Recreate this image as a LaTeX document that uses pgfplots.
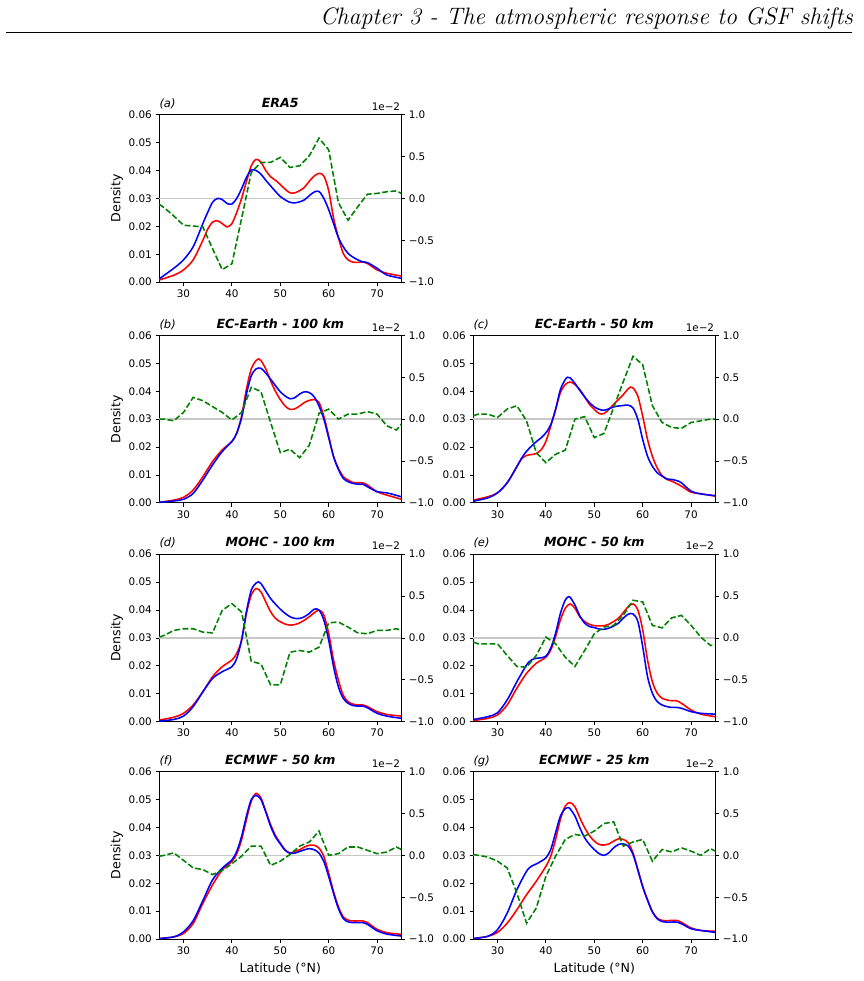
\documentclass[border=0pt]{standalone}
\usepackage{fontspec}
\newfontfamily\dejavu{DejaVu Sans}
\usepackage{pgfplots}
\pgfplotsset{compat=1.18}

\newcommand\tickfont{\dejavu\fontsize{10.4}{12}\selectfont}
\newcommand\labfont{\dejavu\fontsize{12.6}{15}\selectfont}

\definecolor{mplred}{rgb}{1,0,0}
\definecolor{mplblue}{rgb}{0,0,1}
\definecolor{mplgreen}{rgb}{0,0.5,0}
\definecolor{zeroline}{rgb}{0.78,0.78,0.78}

\pgfplotsset{
  panelbase/.style={
    scale only axis, width=242pt, height=167.5pt, anchor=south west,
    xmin=25, xmax=75, clip=false, scaled ticks=false,
    tick align=outside, major tick length=3.64pt,
    every tick/.style={black, line width=0.83pt},
    axis line style={line width=0.83pt},
    tick label style={font=\tickfont, inner sep=0pt},
  },
  densityaxis/.style={panelbase,
    ymin=0, ymax=0.06,
    xtick={30,40,50,60,70}, xticklabels={30,40,50,60,70},
    ytick={0,0.01,0.02,0.03,0.04,0.05,0.06},
    yticklabels={0.00,0.01,0.02,0.03,0.04,0.05,0.06},
    tick pos=left, xticklabel shift=3.66pt, yticklabel shift=3.66pt,
  },
  shiftaxis/.style={panelbase,
    ymin=-1, ymax=1, hide x axis,
    ytick={-1,-0.5,0,0.5,1}, yticklabels={−1.0,−0.5,0.0,0.5,1.0},
    ytick pos=right, yticklabel pos=right, yticklabel shift=3.66pt,
    axis line style={draw=none},
  },
}

% one panel: density curves on the left axis, shift on the right axis
% #1,#2 lower-left corner, #3 tag, #4 title, #5 red, #6 blue, #7 green, #8 extra labels
\newcommand\panel[8]{%
  \begin{axis}[densityaxis, at={(#1pt,#2pt)}]
    \addplot[zeroline, line width=1.56pt] coordinates {(25,0.03) (75,0.03)};
    \addplot[mplred, line width=1.56pt, smooth] coordinates {#5};
    \addplot[mplblue, line width=1.56pt, smooth] coordinates {#6};
    #8
  \end{axis}
  \begin{axis}[shiftaxis, at={(#1pt,#2pt)}]
    \addplot[mplgreen, line width=1.56pt, dash pattern=on 5.8pt off 2.5pt] coordinates {#7};
    \node[anchor=south east, inner sep=0pt, font=\tickfont] at ([xshift=-1pt,yshift=4pt]rel axis cs:1,1) {1e−2};
    \node[anchor=base, inner sep=0pt, font=\labfont\bfseries\itshape] at ([yshift=7.3pt]rel axis cs:0.5,1) {#4};
    \node[anchor=base west, inner sep=0pt, font=\dejavu\fontsize{11.5}{14}\selectfont\itshape] at ([yshift=7.3pt]rel axis cs:0,1) {(#3)};
  \end{axis}
}
\newcommand\ylab{\node[rotate=90, anchor=south, inner sep=0pt, font=\labfont] at ([xshift=-36pt]rel axis cs:0,0.5) {Density};}
\newcommand\xlab{\node[anchor=north, inner sep=0pt, font=\labfont] at ([yshift=-23.4pt]rel axis cs:0.5,0) {Latitude (°N)};}

\begin{document}
\begin{tikzpicture}
\path[use as bounding box] (0pt,0pt) rectangle (863pt,981pt);

% running head
\node[anchor=base east, inner sep=0pt, font=\fontsize{23.8}{28}\selectfont\itshape] at (853pt,956.5pt) {Chapter 3 - The atmospheric response to GSF shifts};
\draw[line width=1pt] (6pt,948.5pt) -- (852pt,948.5pt);

% (a) ERA5
\panel{159.3}{698.8}{a}{ERA5}
{(25,0.0008) (28,0.0025) (30,0.0044) (32,0.008) (34,0.015) (35,0.019) (36,0.0215) (37,0.022) (38,0.021) (39,0.0198) (40,0.021) (41,0.025) (42,0.030) (43,0.036) (44,0.0417) (45,0.044) (46,0.043) (47,0.040) (48,0.0378) (49,0.0365) (50,0.035) (51,0.0333) (52,0.032) (53,0.032) (54,0.0328) (55,0.034) (56,0.0362) (57,0.038) (58,0.039) (59,0.038) (60,0.0328) (61,0.023) (62,0.016) (63,0.0103) (64,0.008) (65,0.0072) (66,0.0071) (67,0.0072) (68,0.0067) (70,0.0044) (72,0.0032) (75,0.0022)}
{(25,0.0012) (28,0.005) (30,0.008) (32,0.0127) (34,0.021) (35,0.025) (36,0.0286) (37,0.030) (38,0.0296) (39,0.0282) (40,0.028) (41,0.030) (42,0.0335) (43,0.0375) (44,0.0402) (45,0.040) (46,0.0387) (47,0.0365) (48,0.0345) (49,0.0325) (50,0.0307) (51,0.0295) (52,0.0286) (53,0.0284) (54,0.0288) (55,0.0295) (56,0.031) (57,0.0323) (58,0.0325) (59,0.030) (60,0.026) (61,0.021) (62,0.016) (63,0.0127) (64,0.0103) (65,0.009) (66,0.008) (67,0.0073) (68,0.007) (70,0.005) (72,0.0026) (75,0.0014)}
{(25,-0.07) (26,-0.11) (28,-0.21) (30,-0.32) (32,-0.33) (34,-0.34) (36,-0.60) (38,-0.85) (40,-0.78) (42,-0.24) (44,0.31) (46,0.43) (48,0.43) (50,0.49) (52,0.37) (54,0.39) (56,0.51) (58,0.72) (60,0.58) (62,-0.05) (64,-0.26) (66,-0.10) (68,0.05) (70,0.06) (72,0.08) (74,0.09) (75,0.06)}
{\ylab}

% (b) EC-Earth 100 km
\panel{159.3}{478.1}{b}{EC-Earth - 100 km}
{(25,0.0002) (28,0.001) (30,0.002) (32,0.0046) (34,0.0094) (36,0.0148) (38,0.019) (40,0.022) (41,0.025) (42,0.031) (43,0.0407) (44,0.048) (45,0.051) (45.5,0.0516) (46,0.051) (47,0.048) (48,0.0437) (49,0.040) (50,0.037) (51,0.0347) (52,0.0335) (53,0.0337) (54,0.0347) (55,0.036) (56,0.0367) (57,0.037) (58,0.036) (59,0.031) (60,0.0239) (61,0.0166) (62,0.0124) (63,0.0094) (64,0.0082) (65,0.0073) (66,0.0072) (67,0.0072) (68,0.0064) (70,0.004) (72,0.0028) (75,0.0013)}
{(25,0.0002) (28,0.0007) (30,0.0013) (32,0.0034) (34,0.0082) (36,0.0136) (38,0.0184) (40,0.022) (41,0.025) (42,0.0305) (43,0.039) (44,0.0455) (45,0.048) (46,0.0482) (47,0.0465) (48,0.0443) (49,0.042) (50,0.0398) (51,0.0383) (52,0.0373) (53,0.0377) (54,0.039) (55,0.0398) (56,0.0395) (57,0.038) (58,0.0347) (59,0.030) (60,0.0233) (61,0.0166) (62,0.012) (63,0.0088) (64,0.0076) (65,0.007) (66,0.0067) (67,0.0067) (68,0.0058) (70,0.004) (72,0.0036) (75,0.0022)}
{(25,0) (26,0) (28,-0.02) (30,0.08) (32,0.26) (34,0.22) (36,0.15) (38,0.08) (40,-0.01) (42,0.08) (44,0.38) (46,0.33) (48,-0.04) (50,-0.40) (52,-0.36) (54,-0.46) (56,-0.31) (58,0.07) (60,0.12) (62,0.0) (64,0.06) (66,0.06) (68,0.09) (70,0.06) (72,-0.08) (74,-0.13) (75,-0.06)}
{\ylab}

% (c) EC-Earth 50 km
\panel{473.3}{478.1}{c}{EC-Earth - 50 km}
{(25,0.001) (28,0.0022) (30,0.0036) (32,0.0072) (34,0.013) (35,0.0158) (36,0.017) (37,0.0173) (38,0.0177) (39,0.019) (40,0.022) (41,0.0275) (42,0.0335) (43,0.0395) (44,0.0424) (45,0.0433) (46,0.0424) (47,0.0406) (48,0.038) (49,0.0353) (50,0.0335) (51,0.032) (52,0.032) (53,0.0335) (54,0.0353) (55,0.037) (56,0.0388) (57,0.0409) (57.5,0.0415) (58,0.0412) (59,0.0382) (60,0.031) (61,0.0227) (62,0.0167) (63,0.0125) (64,0.0098) (65,0.0084) (66,0.0078) (67,0.0069) (68,0.006) (70,0.0038) (72,0.0033) (75,0.0024)}
{(25,0.0006) (28,0.0018) (30,0.0036) (32,0.0072) (34,0.013) (35,0.0161) (36,0.0185) (37,0.0203) (38,0.0219) (39,0.0233) (40,0.0251) (41,0.028) (42,0.0335) (43,0.0406) (44,0.0442) (44.5,0.045) (45,0.0448) (46,0.0428) (47,0.0403) (48,0.038) (49,0.0359) (50,0.0344) (51,0.0335) (52,0.0332) (53,0.0337) (54,0.0344) (55,0.0347) (56,0.0349) (57,0.035) (58,0.034) (59,0.0299) (60,0.0227) (61,0.0167) (62,0.0131) (63,0.0108) (64,0.0096) (65,0.0086) (66,0.0084) (67,0.008) (68,0.0072) (70,0.0042) (72,0.0032) (75,0.0026)}
{(25,0.04) (26,0.06) (28,0.06) (30,0.02) (32,0.12) (34,0.16) (36,-0.02) (38,-0.40) (40,-0.52) (42,-0.42) (44,-0.37) (46,0.0) (48,0.03) (50,-0.22) (52,-0.17) (54,0.14) (56,0.45) (58,0.75) (60,0.65) (62,0.16) (64,-0.04) (66,-0.10) (68,-0.11) (70,-0.04) (72,-0.02) (74,0.0) (75,0.0)}
{}

% (d) MOHC 100 km
\panel{159.3}{259.3}{d}{MOHC - 100 km}
{(25,0.0006) (28,0.0016) (30,0.003) (32,0.006) (34,0.0107) (36,0.0161) (38,0.0197) (40,0.0221) (41,0.0245) (42,0.0292) (43,0.0388) (44,0.0453) (45,0.0477) (46,0.0465) (47,0.0429) (48,0.0394) (49,0.037) (50,0.0358) (51,0.035) (52,0.0346) (53,0.0348) (54,0.0354) (55,0.0364) (56,0.0376) (57,0.039) (58,0.040) (59,0.0382) (60,0.0316) (61,0.0221) (62,0.0149) (63,0.0095) (64,0.0072) (65,0.0063) (66,0.006) (67,0.006) (68,0.0054) (70,0.0036) (72,0.0026) (75,0.002)}
{(25,0.0002) (28,0.0008) (30,0.002) (32,0.0054) (34,0.0107) (36,0.0155) (38,0.0179) (40,0.0197) (41,0.0227) (42,0.0292) (43,0.0394) (44,0.0471) (45,0.0497) (45.5,0.0501) (46,0.0495) (47,0.0468) (48,0.0441) (49,0.0421) (50,0.0403) (51,0.0388) (52,0.0376) (53,0.037) (54,0.037) (55,0.0376) (56,0.0388) (57,0.0403) (58,0.040) (59,0.0364) (60,0.0292) (61,0.0197) (62,0.0125) (63,0.0084) (64,0.0066) (65,0.0058) (66,0.0056) (67,0.0056) (68,0.005) (70,0.003) (72,0.002) (75,0.0012)}
{(25,0.01) (26,0.03) (28,0.09) (30,0.11) (32,0.11) (34,0.07) (36,0.06) (38,0.33) (40,0.41) (42,0.31) (44,-0.28) (46,-0.31) (48,-0.56) (50,-0.56) (52,-0.17) (54,-0.15) (56,-0.17) (58,-0.11) (60,0.18) (62,0.19) (64,0.13) (66,0.06) (68,0.05) (70,0.09) (72,0.09) (74,0.11) (75,0.09)}
{\ylab}

% (e) MOHC 50 km
\panel{473.3}{259.3}{e}{MOHC - 50 km}
{(25,0.0004) (28,0.0012) (30,0.0024) (32,0.006) (34,0.012) (36,0.0173) (38,0.0209) (40,0.0231) (41,0.0257) (42,0.0305) (43,0.0365) (44,0.0406) (45,0.0422) (46,0.0406) (47,0.0376) (48,0.0359) (49,0.0349) (50,0.0344) (51,0.0343) (52,0.0344) (53,0.0349) (54,0.0359) (55,0.0371) (56,0.0391) (57,0.0412) (58,0.0422) (59,0.040) (60,0.0329) (61,0.0221) (62,0.0143) (63,0.0102) (64,0.0084) (65,0.0078) (66,0.0075) (67,0.0075) (68,0.0066) (70,0.0042) (72,0.0027) (75,0.0018)}
{(25,0.0008) (28,0.0018) (30,0.0032) (32,0.0078) (34,0.0143) (36,0.0203) (37,0.0221) (38,0.0227) (39,0.0229) (40,0.0235) (41,0.0263) (42,0.0317) (43,0.0388) (44,0.0436) (44.7,0.0448) (45,0.0446) (46,0.0418) (47,0.0379) (48,0.0353) (49,0.0341) (50,0.0337) (51,0.0332) (52,0.0331) (53,0.0335) (54,0.0343) (55,0.0353) (56,0.0371) (57,0.0385) (58,0.0386) (59,0.0359) (60,0.0269) (61,0.0161) (62,0.0102) (63,0.0072) (64,0.006) (65,0.0054) (66,0.0051) (67,0.0051) (68,0.0048) (70,0.0036) (72,0.003) (75,0.0027)}
{(25,-0.05) (26,-0.07) (28,-0.07) (30,-0.07) (32,-0.21) (34,-0.34) (36,-0.35) (38,-0.21) (40,0.01) (42,-0.07) (44,-0.23) (46,-0.34) (48,-0.15) (50,0.05) (52,0.13) (54,0.15) (56,0.27) (58,0.45) (60,0.43) (62,0.15) (64,0.12) (66,0.24) (68,0.27) (70,0.15) (72,0.01) (74,-0.09) (75,-0.08)}
{}

% (f) ECMWF 50 km
\panel{159.3}{41.9}{f}{ECMWF - 50 km}
{(25,0.0002) (28,0.0008) (30,0.002) (32,0.0056) (34,0.0128) (36,0.0194) (38,0.0248) (40,0.0278) (41,0.0306) (42,0.0356) (43,0.0428) (44,0.0494) (45,0.0522) (46,0.0506) (47,0.0458) (48,0.041) (49,0.0371) (50,0.0344) (51,0.032) (52,0.0308) (53,0.0314) (54,0.032) (55,0.033) (56,0.0336) (57,0.0336) (58,0.0326) (59,0.0296) (60,0.0236) (61,0.017) (62,0.0116) (63,0.008) (64,0.0068) (65,0.0065) (66,0.0065) (67,0.0065) (68,0.0059) (70,0.0035) (72,0.0023) (75,0.0017)}
{(25,0.0002) (28,0.0008) (30,0.0026) (32,0.0066) (34,0.0138) (36,0.0212) (38,0.0254) (40,0.0284) (41,0.0314) (42,0.0368) (43,0.044) (44,0.050) (45,0.0515) (46,0.050) (47,0.0455) (48,0.0404) (49,0.0366) (50,0.0341) (51,0.0318) (52,0.0308) (53,0.0308) (54,0.0314) (55,0.032) (56,0.0324) (57,0.032) (58,0.0308) (59,0.0278) (60,0.0224) (61,0.0164) (62,0.011) (63,0.0074) (64,0.0062) (65,0.0059) (66,0.0059) (67,0.0059) (68,0.0053) (70,0.003) (72,0.0018) (75,0.0011)}
{(25,-0.01) (26,0.0) (28,0.03) (30,-0.06) (32,-0.15) (34,-0.17) (36,-0.23) (38,-0.18) (40,-0.10) (42,-0.01) (44,0.11) (46,0.11) (48,-0.12) (50,-0.07) (52,0.01) (54,0.11) (56,0.16) (58,0.29) (60,0.0) (62,0.02) (64,0.10) (66,0.10) (68,0.06) (70,0.02) (72,0.04) (74,0.10) (75,0.07)}
{\ylab\xlab}

% (g) ECMWF 25 km
\panel{473.3}{41.9}{g}{ECMWF - 25 km}
{(25,0.0002) (28,0.001) (30,0.0024) (32,0.0057) (34,0.0105) (36,0.0159) (38,0.0207) (40,0.0261) (41,0.0297) (42,0.0357) (43,0.0429) (44,0.0477) (45,0.0489) (46,0.0474) (47,0.0435) (48,0.0399) (49,0.0371) (50,0.0351) (51,0.0339) (52,0.0337) (53,0.0341) (54,0.0351) (55,0.0359) (56,0.0357) (57,0.0345) (58,0.0309) (59,0.0249) (60,0.0189) (61,0.0141) (62,0.0099) (63,0.0075) (64,0.0067) (65,0.0066) (66,0.0067) (67,0.0067) (68,0.006) (70,0.004) (72,0.0031) (75,0.0028)}
{(25,0.0002) (28,0.001) (30,0.0034) (32,0.0093) (34,0.0177) (36,0.0243) (37,0.0261) (38,0.0269) (39,0.0279) (40,0.0291) (41,0.0321) (42,0.0381) (43,0.0441) (44,0.0467) (44.7,0.0471) (45,0.0467) (46,0.0441) (47,0.0399) (48,0.0363) (49,0.0339) (50,0.0321) (51,0.0306) (52,0.030) (53,0.0309) (54,0.0327) (55,0.0339) (56,0.0341) (57,0.0333) (58,0.0303) (59,0.0247) (60,0.0187) (61,0.0139) (62,0.0097) (63,0.0073) (64,0.0063) (65,0.0061) (66,0.0061) (67,0.0061) (68,0.0055) (70,0.0037) (72,0.0031) (75,0.0024)}
{(25,0.01) (26,0.0) (28,-0.02) (30,-0.07) (32,-0.15) (34,-0.45) (36,-0.81) (38,-0.63) (40,-0.25) (42,-0.01) (44,0.19) (46,0.25) (48,0.23) (50,0.29) (52,0.38) (54,0.40) (56,0.11) (58,0.16) (60,0.19) (62,-0.07) (64,0.07) (66,0.04) (68,0.09) (70,0.05) (72,0.0) (74,0.08) (75,0.05)}
{\xlab}

\end{tikzpicture}
\end{document}
